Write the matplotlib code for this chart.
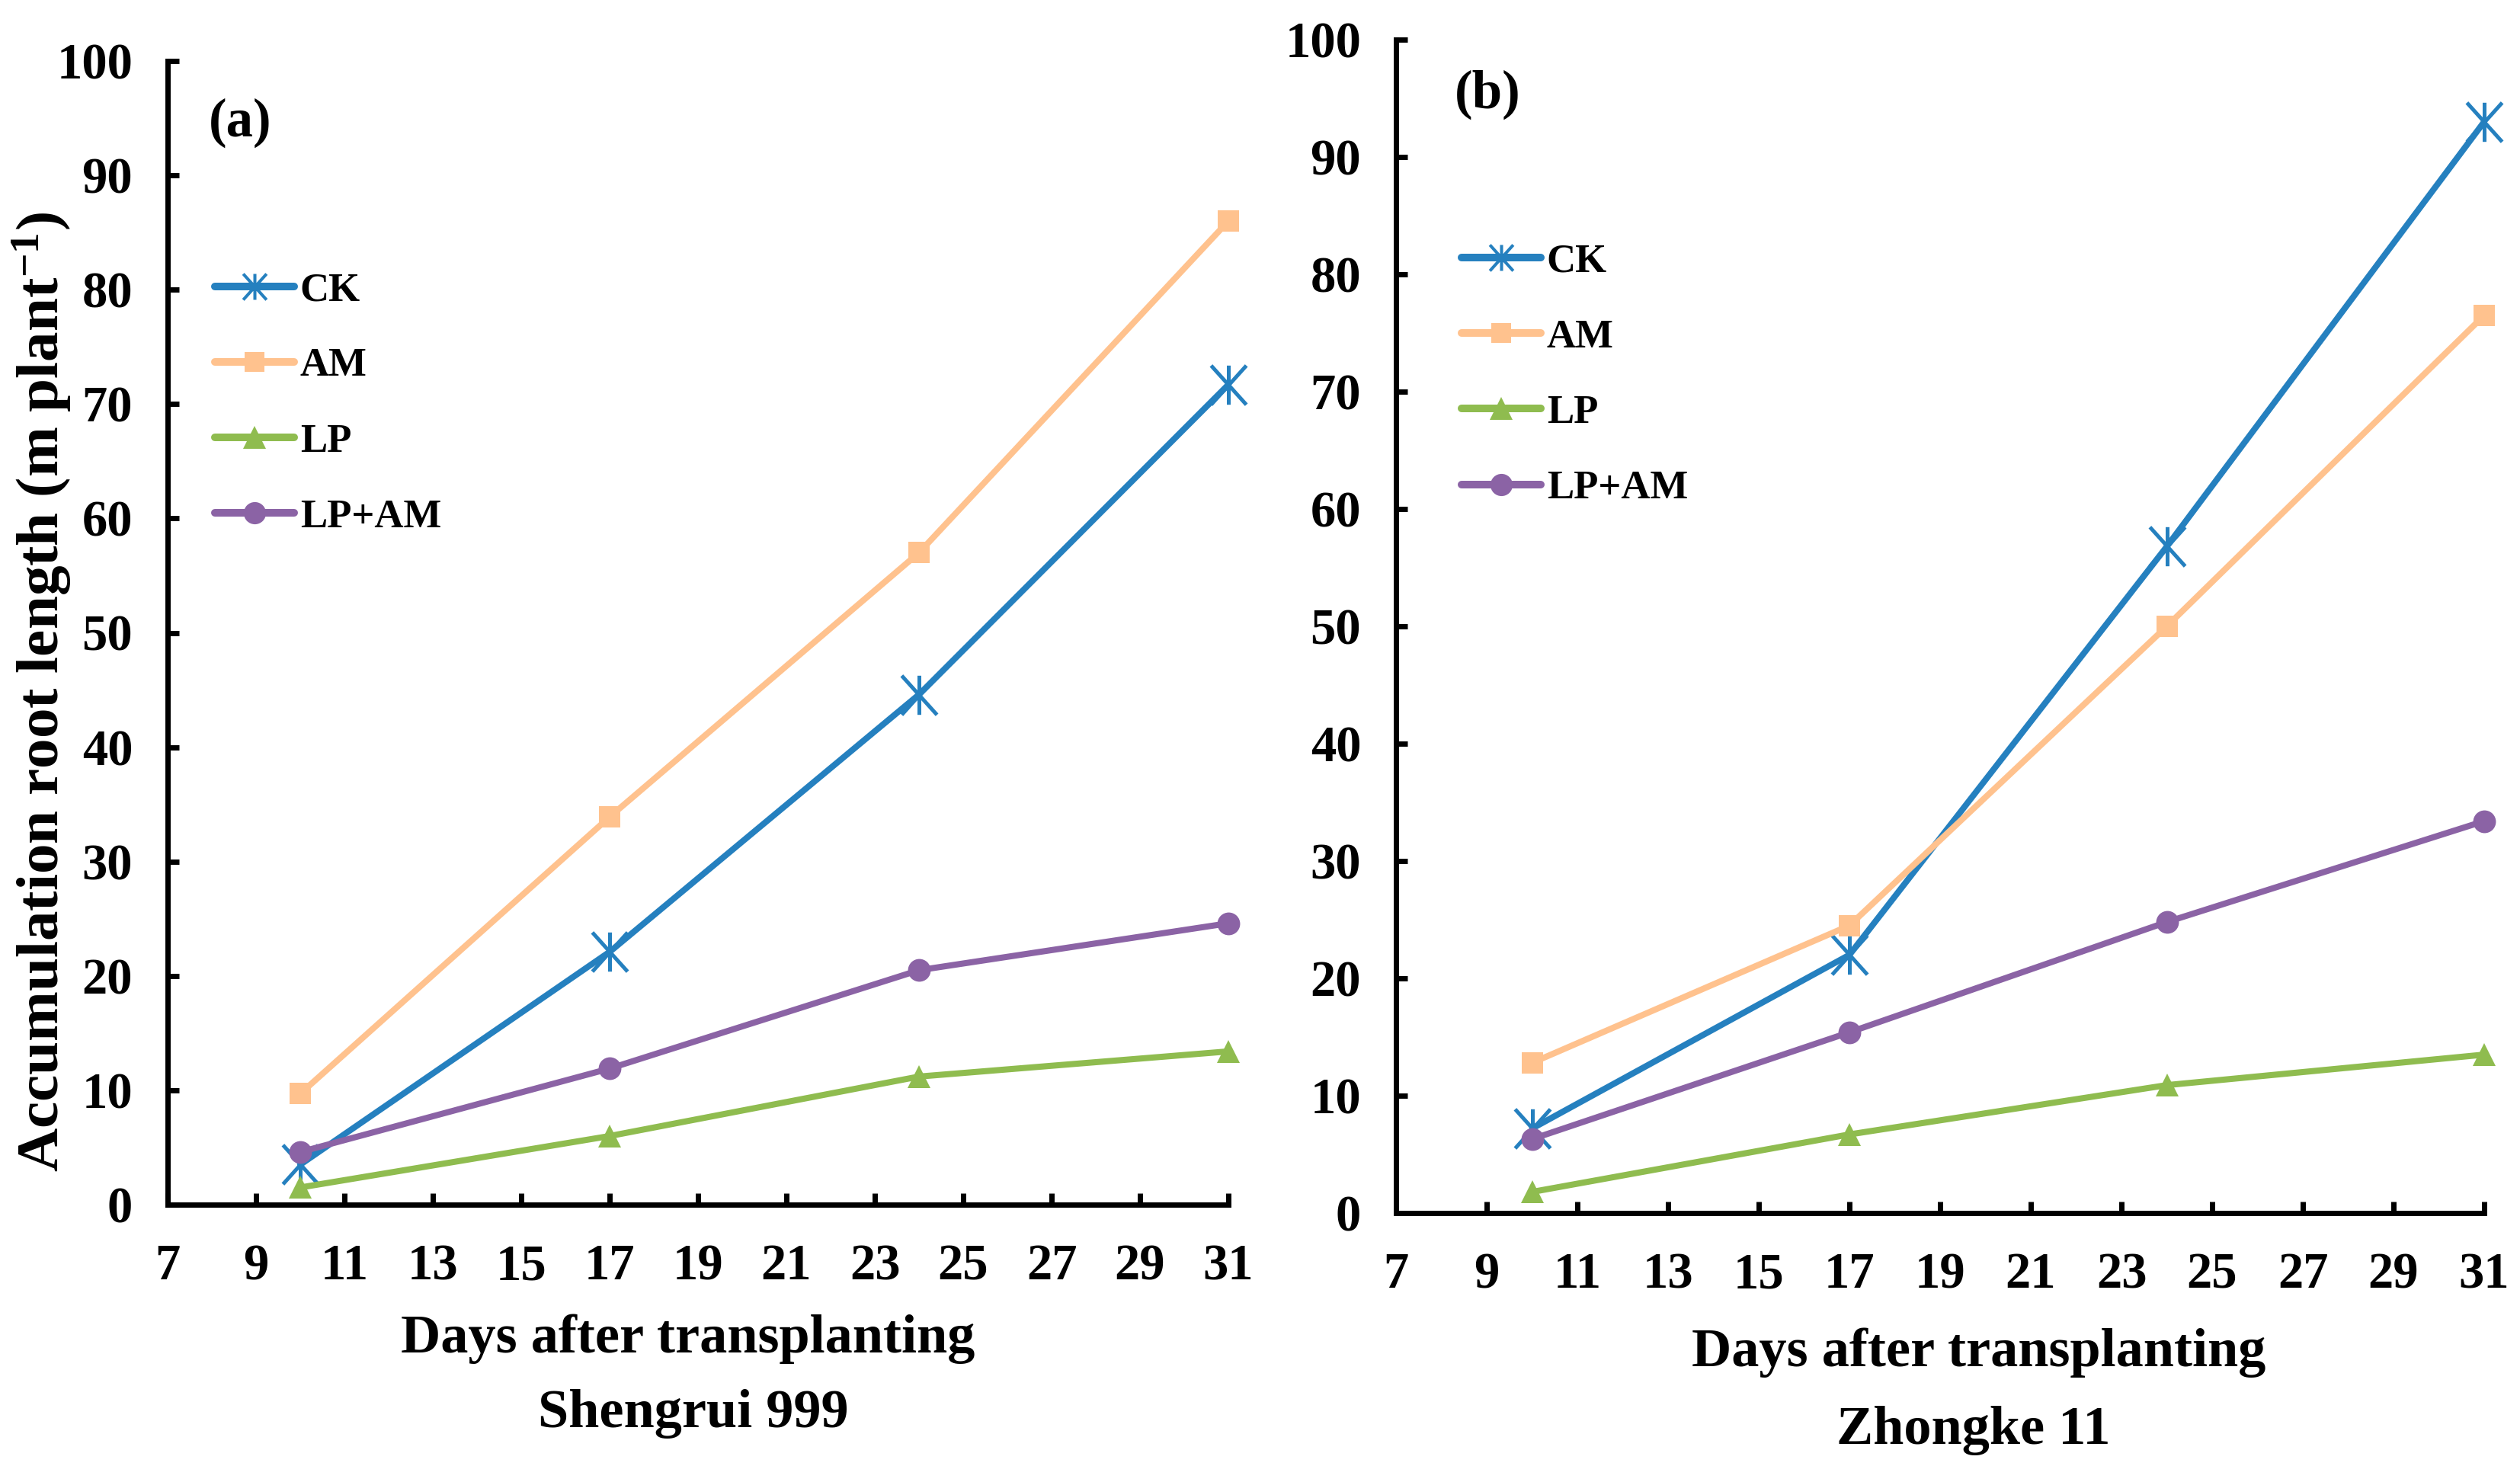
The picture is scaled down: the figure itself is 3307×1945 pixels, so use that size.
import matplotlib
matplotlib.use("Agg")
import matplotlib.pyplot as plt
from matplotlib.path import Path
from matplotlib.lines import Line2D

plt.rcParams['font.family'] = ['Liberation Serif', 'DejaVu Serif']
plt.rcParams['font.weight'] = 'bold'
plt.rcParams['mathtext.fontset'] = 'custom'
plt.rcParams['mathtext.rm'] = 'Liberation Serif:bold'
plt.rcParams['mathtext.bf'] = 'Liberation Serif:bold'
plt.rcParams['mathtext.default'] = 'bf'

# ---------------- data ----------------
days = [10, 17, 24, 31]
series_names = ["CK", "AM", "LP", "LP+AM"]

a_CK = [3.5, 22.1, 44.6, 71.7]
a_AM = [9.7, 33.9, 57.0, 86.0]
a_LP = [1.5, 6.0, 11.2, 13.4]
a_LPAM = [4.6, 11.9, 20.5, 24.6]

b_CK = [7.2, 22.0, 56.8, 93.0]
b_AM = [12.8, 24.5, 50.0, 76.5]
b_LP = [1.8, 6.7, 10.9, 13.5]
b_LPAM = [6.3, 15.4, 24.8, 33.4]

xticks = list(range(7, 32, 2))
yticks = list(range(0, 101, 10))

panel_a_title = "(a)"
panel_b_title = "(b)"
xlabel = "Days after transplanting"
cultivar_a = "Shengrui 999"
cultivar_b = "Zhongke 11"
ylabel = r"Accumulation root length (m plant$^{-1}$)"

# ---------------- style ----------------
colors = {"CK": "#2580BF", "AM": "#FFC28E", "LP": "#8FBC4F", "LP+AM": "#8B63A5"}
star_path = Path([(0, -1), (0, 1), (-0.9, -1), (0.9, 1), (-0.9, 1), (0.9, -1)],
                 [Path.MOVETO, Path.LINETO, Path.MOVETO, Path.LINETO, Path.MOVETO, Path.LINETO])
markers = {"CK": star_path, "AM": "s", "LP": "^", "LP+AM": "o"}
msizes = {"CK": 37, "AM": 20, "LP": 22, "LP+AM": 21.5}
leg_msizes = {"CK": 24.5, "AM": 19, "LP": 22, "LP+AM": 21}

W, H = 3307, 1945
fig = plt.figure(figsize=(W / 100, H / 100), dpi=100)

def px_axes(x0, x1, ytop, ybot):
    return [x0 / W, 1 - ybot / H, (x1 - x0) / W, (ybot - ytop) / H]

axA = fig.add_axes(px_axes(220, 1612, 80, 1581))
axB = fig.add_axes(px_axes(1832, 3260, 52, 1592))

def draw(ax, data, leg_anchor):
    for name, vals in zip(series_names, data):
        kw = dict(color=colors[name], lw=5.8, solid_capstyle='round', marker=markers[name],
                  ms=msizes[name], markeredgecolor=colors[name], markerfacecolor=colors[name])
        if name == "CK":
            kw.update(fillstyle='none', markeredgewidth=3.6)
        else:
            kw.update(markeredgewidth=0)
        ax.plot(days, vals, clip_on=False, **kw)
    handles = []
    for name in series_names:
        kw = dict(color=colors[name], lw=7.2, solid_capstyle='round', marker=markers[name],
                  ms=leg_msizes[name], markeredgecolor=colors[name], markerfacecolor=colors[name])
        if name == "CK":
            kw.update(fillstyle='none', markeredgewidth=2.9)
        else:
            kw.update(markeredgewidth=0)
        handles.append(Line2D([], [], **kw))
    ax.legend(handles, series_names, loc='upper left', bbox_to_anchor=leg_anchor,
              frameon=False, prop={'family': 'Liberation Serif', 'weight': 'bold', 'size': 38},
              handlelength=1.97, handletextpad=0.15, labelspacing=0.97,
              borderpad=0, borderaxespad=0)
    ax.set_xlim(7, 31)
    ax.set_ylim(0, 100)
    ax.set_xticks(xticks)
    ax.set_yticks(yticks)
    for s in ['top', 'right']:
        ax.spines[s].set_visible(False)
    for s in ['left', 'bottom']:
        ax.spines[s].set_linewidth(5)
    ax.tick_params(axis='both', direction='in', length=11, width=5, labelsize=48)
    ax.tick_params(axis='y', pad=33)
    ax.tick_params(axis='x', pad=37)
    for lab in ax.get_xticklabels() + ax.get_yticklabels():
        lab.set_fontweight('bold')

draw(axA, [a_CK, a_AM, a_LP, a_LPAM], (0.0445, 0.8153))
draw(axB, [b_CK, b_AM, b_LP, b_LPAM], (0.0602, 0.8263))

def ftext(x, y, s, **kw):
    fig.text(x / W, 1 - y / H, s, ha='center', va='center', fontweight='bold', **kw)

ftext(315, 161, panel_a_title, fontsize=51)
ftext(1952, 124, panel_b_title, fontsize=51)
ftext(903, 1757, xlabel, fontsize=52)
ftext(910, 1855, cultivar_a, fontsize=52)
ftext(2597, 1775, xlabel, fontsize=52)
ftext(2590, 1878, cultivar_b, fontsize=52)
ftext(55, 908, ylabel, fontsize=57, rotation=90)

fig.savefig("out.png", dpi=100)
